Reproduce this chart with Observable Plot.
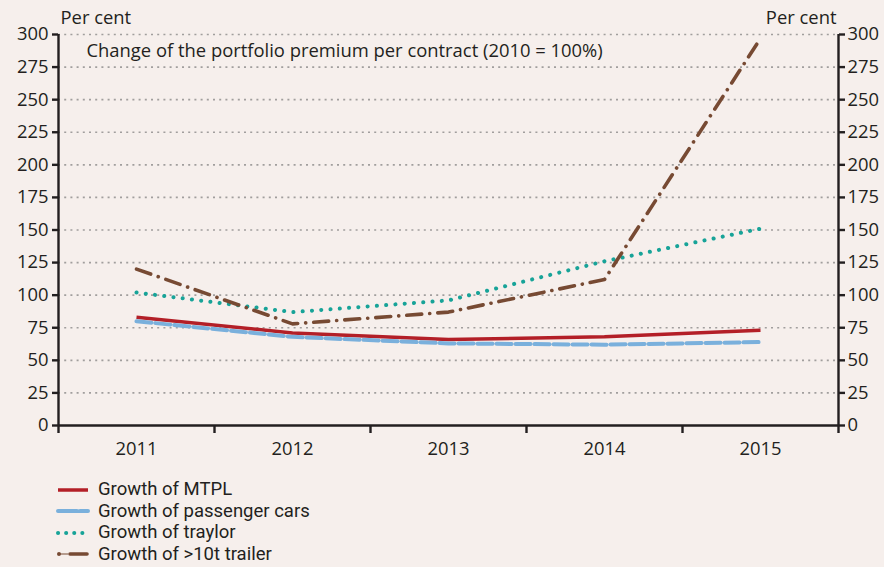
<!DOCTYPE html>
<html>
<head>
<meta charset="utf-8">
<script src="https://cdn.jsdelivr.net/npm/d3@7"></script>
<script src="https://cdn.jsdelivr.net/npm/@observablehq/plot@0.6"></script>
<style>
  html, body { margin: 0; padding: 0; background: #f6efec; }
  body { width: 884px; height: 567px; overflow: hidden; font-family: "Open Sans", sans-serif; color: #231f20; }
  #legend { margin-left: 56px; margin-top: 12px; }
  .item { display: flex; align-items: center; height: 21.5px; font-family: Roboto, sans-serif; font-size: 18.5px; }
  .item svg { margin-right: 8px; }
  .item span { display: inline-block; line-height: 21px; height: 21px; }
</style>
</head>
<body>
<div id="chart"></div>
<div id="legend"></div>
<script>
const years = [2011, 2012, 2013, 2014, 2015];
const mtpl = [83, 71, 66, 68, 73];
const passengerCars = [80, 68, 63, 62, 64];
const traylor = [102, 87, 96, 126, 151];
const trailer = [120, 78, 87, 112, 297];
const seriesNames = ["Growth of MTPL", "Growth of passenger cars", "Growth of traylor", "Growth of >10t trailer"];
const yTicks = d3.range(0, 301, 25);
const gridTicks = d3.range(25, 301, 25);
const title = "Change of the portfolio premium per contract (2010 = 100%)";
const unitLabel = "Per cent";

const FS = 18.4;
const styles = [
  {stroke: "#b31f27", strokeWidth: 3.5, dash: null, cap: "butt"},
  {stroke: "#7ab0dc", strokeWidth: 4, dash: "15 4", cap: "round"},
  {stroke: "#17a398", strokeWidth: 4, dash: "0.1 9.2", cap: "round"},
  {stroke: "#774a33", strokeWidth: 3.6, dash: "15 8 0.1 8", cap: "round"}
];
const allSeries = [mtpl, passengerCars, traylor, trailer];

const lineMarks = allSeries.map((vals, i) => {
  const data = years.map((y, j) => ({year: y, value: vals[j]}));
  const s = styles[i];
  return Plot.line(data, {x: "year", y: "value", stroke: s.stroke, strokeWidth: s.strokeWidth,
    strokeDasharray: s.dash, strokeLinecap: s.cap, strokeLinejoin: "round"});
});

const x0 = years[0] - 0.5, x1 = years[years.length - 1] + 0.5;
const bounds = d3.range(x0, x1 + 0.01, 1);

const chart = Plot.plot({
  width: 884,
  height: 467,
  marginLeft: 58,
  marginRight: 46,
  marginTop: 34,
  marginBottom: 42,
  style: {background: "transparent", fontFamily: "Open Sans, sans-serif", fontSize: FS + "px", color: "#231f20"},
  x: {domain: [x0, x1]},
  y: {domain: [0, 300]},
  marks: [
    Plot.ruleY(gridTicks, {stroke: "#a19e9d", strokeWidth: 1.6, strokeDasharray: "2 4.2"}),
    ...lineMarks,
    Plot.ruleX([x0, x1], {y1: 0, y2: 300, stroke: "#231f20", strokeWidth: 2.4}),
    Plot.ruleY([0], {stroke: "#231f20", strokeWidth: 2.4}),
    Plot.axisY({anchor: "left", ticks: yTicks, tickSize: 6, tickPadding: 4, tickFormat: d => d, stroke: "#231f20", strokeWidth: 2.4, label: null, fontSize: FS}),
    Plot.axisY({anchor: "right", ticks: yTicks, tickSize: 6, tickPadding: 3, tickFormat: d => d, stroke: "#231f20", strokeWidth: 2.4, label: null, fontSize: FS}),
    Plot.axisX({ticks: bounds, tickSize: 8, tickFormat: () => "", stroke: "#231f20", strokeWidth: 2.4, label: null}),
    Plot.axisX({ticks: years, tickSize: 0, tickPadding: 16, tickFormat: d => String(d), label: null, fontSize: FS}),
    Plot.text([unitLabel], {x: x0, y: 300, dy: -16, dx: 2, textAnchor: "start", fontSize: FS, fill: "#231f20"}),
    Plot.text([unitLabel], {x: x1, y: 300, dy: -16, dx: -2, textAnchor: "end", fontSize: FS, fill: "#231f20"}),
    Plot.text([title], {x: x0, y: 300, dy: 17, dx: 28, textAnchor: "start", fontSize: FS, fill: "#231f20"})
  ]
});
document.getElementById("chart").appendChild(chart);

const legend = document.getElementById("legend");
seriesNames.forEach((name, i) => {
  const s = styles[i];
  const div = document.createElement("div");
  div.className = "item";
  let sw;
  if (i === 3) {
    sw = `<svg width="34" height="10"><line x1="3" y1="5" x2="12" y2="5" stroke="${s.stroke}" stroke-width="1"/><circle cx="3" cy="5" r="2" fill="${s.stroke}"/><line x1="14" y1="5" x2="31" y2="5" stroke="${s.stroke}" stroke-width="3.6" stroke-linecap="round"/></svg>`;
  } else {
    sw = `<svg width="34" height="10"><line x1="2" y1="5" x2="32" y2="5" stroke="${s.stroke}" stroke-width="${s.strokeWidth}" ${s.dash ? `stroke-dasharray="${i===1 ? '19 3' : '0.1 8'}"` : ""} stroke-linecap="${s.cap}"/></svg>`;
  }
  div.innerHTML = sw + `<span>${name}</span>`;
  legend.appendChild(div);
});
</script>
</body>
</html>
